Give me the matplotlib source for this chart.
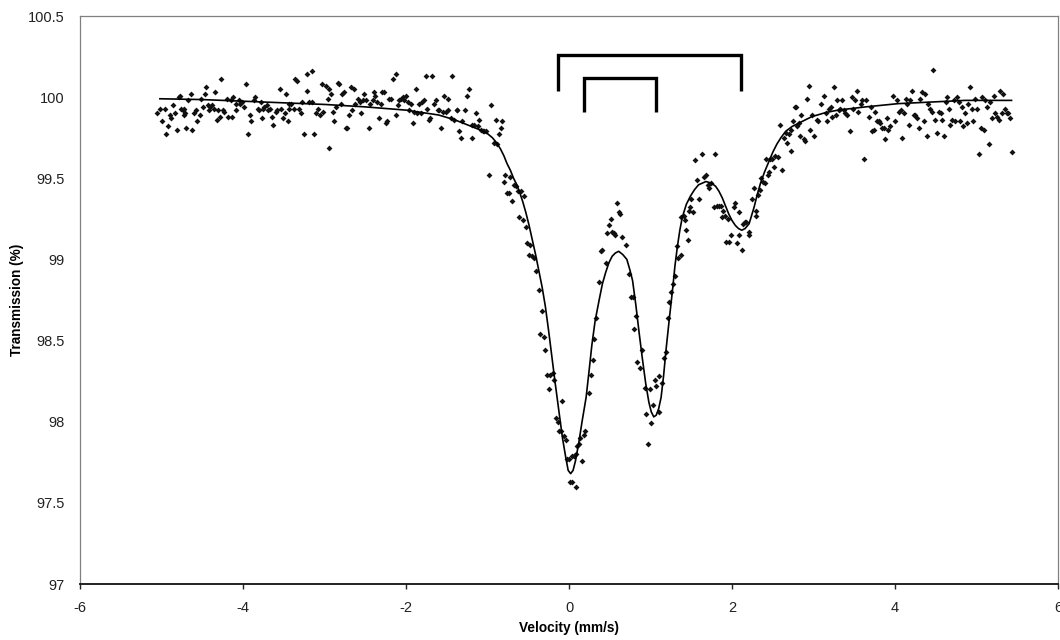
import matplotlib
matplotlib.use("Agg")
import matplotlib.pyplot as plt
from matplotlib.ticker import FuncFormatter

plt.rcParams['font.family'] = ['Liberation Sans', 'DejaVu Sans']
plt.rcParams['axes.unicode_minus'] = False

# measured spectrum (velocity mm/s, transmission %)
vel = [
    -5.05, -5.02, -4.99, -4.96, -4.94, -4.92, -4.89, -4.88, -4.86, -4.84, -4.81, -4.79, -4.77, -4.76, -4.74, -4.73,
    -4.72, -4.71, -4.70, -4.67, -4.64, -4.62, -4.60, -4.58, -4.56, -4.53, -4.51, -4.49, -4.47, -4.45, -4.43, -4.42,
    -4.40, -4.38, -4.36, -4.34, -4.32, -4.31, -4.28, -4.27, -4.25, -4.23, -4.20, -4.18, -4.15, -4.13, -4.12, -4.09,
    -4.08, -4.05, -4.04, -4.01, -3.99, -3.96, -3.94, -3.92, -3.90, -3.87, -3.85, -3.82, -3.80, -3.78, -3.77, -3.76,
    -3.74, -3.71, -3.69, -3.67, -3.64, -3.63, -3.60, -3.58, -3.55, -3.53, -3.51, -3.49, -3.47, -3.45, -3.44, -3.43,
    -3.41, -3.38, -3.36, -3.34, -3.31, -3.29, -3.27, -3.25, -3.22, -3.21, -3.19,
    -3.15, -3.15, -3.13, -3.11, -3.08, -3.06, -3.03, -3.02, -2.98, -2.96, -2.95, -2.94, -2.92, -2.90, -2.88, -2.86,
    -2.84, -2.82, -2.80, -2.78, -2.76, -2.74, -2.72, -2.70, -2.68, -2.66, -2.64, -2.62, -2.59, -2.57,
    -2.55, -2.53, -2.51, -2.49, -2.46, -2.44, -2.41, -2.39, -2.38, -2.35, -2.33, -2.31,
    -2.29, -2.27, -2.25, -2.23, -2.21, -2.19, -2.16, -2.12, -2.12, -2.10, -2.08,
    -2.06, -2.04, -2.02, -2.00, -1.98, -1.96, -1.94, -1.92, -1.90, -1.88, -1.86, -1.84,
    -1.82, -1.80, -1.78, -1.76, -1.74, -1.72, -1.70, -1.68, -1.66, -1.63, -1.61,
    -1.59, -1.57, -1.55, -1.53, -1.51, -1.49, -1.48, -1.45, -1.43, -1.41, -1.38, -1.37, -1.35, -1.33, -1.31, -1.27,
    -1.25, -1.23, -1.19, -1.19, -1.16, -1.14, -1.12, -1.10, -1.08, -1.06, -1.04, -1.02, -0.98, -0.96, -0.92, -0.90,
    -0.88, -0.86, -0.84, -0.82,
    -0.80, -0.78, -0.76, -0.74, -0.72, -0.70, -0.67, -0.65, -0.63, -0.61, -0.59, -0.57, -0.55, -0.53, -0.51, -0.49,
    -0.48, -0.45, -0.43, -0.41, -0.37, -0.35, -0.33, -0.31, -0.29, -0.27, -0.25, -0.23, -0.20, -0.18, -0.16, -0.14,
    -0.12, -0.10, -0.08, -0.06, -0.04, -0.02, 0.00, 0.01, 0.04, 0.04, 0.06, 0.08, 0.09, 0.10, 0.12, 0.14,
    0.16, 0.18, 0.20, 0.25, 0.27, 0.29, 0.31, 0.33, 0.37, 0.39, 0.41, 0.45, 0.47, 0.49, 0.51, 0.53,
    0.55, 0.57, 0.59, 0.61, 0.63, 0.65, 0.70, 0.74, 0.76, 0.78, 0.80, 0.82, 0.84,
    0.87, 0.90, 0.93, 0.95, 0.97, 0.99, 1.01, 1.03, 1.06, 1.07, 1.10, 1.11, 1.14, 1.16, 1.19, 1.21,
    1.23, 1.25, 1.27, 1.30, 1.32, 1.34, 1.37, 1.38, 1.41, 1.42, 1.44, 1.46, 1.47, 1.49, 1.50, 1.52,
    1.54, 1.57, 1.59, 1.63, 1.66, 1.68, 1.70, 1.72, 1.74, 1.78, 1.79, 1.82, 1.84, 1.86, 1.88, 1.89,
    1.91, 1.93, 1.95, 1.96, 1.99, 2.02, 2.04, 2.06, 2.08, 2.09, 2.12, 2.13, 2.16, 2.17, 2.21, 2.21,
    2.24, 2.27, 2.29, 2.30, 2.32, 2.34, 2.36, 2.38, 2.40, 2.42, 2.44, 2.45, 2.47, 2.49, 2.51, 2.53,
    2.57, 2.59, 2.61, 2.64, 2.66, 2.68, 2.70, 2.72, 2.73, 2.75, 2.77, 2.79, 2.80,
    2.82, 2.84, 2.85, 2.88, 2.90, 2.92, 2.94, 2.96, 2.98, 3.00, 3.04, 3.06, 3.09, 3.13, 3.15, 3.17,
    3.19, 3.21, 3.23, 3.25, 3.27, 3.29, 3.31, 3.33, 3.35, 3.37, 3.39, 3.41, 3.45, 3.47, 3.49, 3.51,
    3.53, 3.55, 3.58, 3.60, 3.62, 3.64, 3.68, 3.70, 3.72, 3.74, 3.76, 3.78, 3.80, 3.82, 3.84, 3.86,
    3.88, 3.90, 3.92, 3.94, 3.98, 4.00, 4.02, 4.05, 4.07, 4.09, 4.11, 4.13, 4.15, 4.17, 4.19, 4.21,
    4.23, 4.25, 4.27, 4.29, 4.31, 4.33, 4.35, 4.37, 4.39, 4.41, 4.43, 4.45, 4.47, 4.49, 4.51, 4.54,
    4.56, 4.58, 4.60, 4.62, 4.64, 4.66, 4.68, 4.70, 4.72, 4.74, 4.76, 4.78, 4.80, 4.82, 4.84, 4.86,
    4.88, 4.90, 4.92, 4.94, 4.96, 4.98, 5.01, 5.03, 5.05, 5.07, 5.09, 5.11, 5.13, 5.15, 5.17, 5.19,
    5.21, 5.23, 5.25, 5.27, 5.29, 5.31, 5.33, 5.35, 5.37, 5.39, 5.41, 5.43,
]
trans = [
    99.90, 99.93, 99.85, 99.93, 99.77, 99.82, 99.89, 99.87, 99.95, 99.90, 99.80, 100.00, 100.01, 99.93, 99.92, 99.89,
    99.925, 99.90, 99.81, 99.98, 100.02, 99.80, 99.90, 99.92, 99.85, 99.89, 99.99, 99.94, 100.02, 100.06, 99.95, 99.92,
    99.94, 99.95, 99.925, 100.03, 99.86, 99.92, 99.88, 100.11, 99.92, 99.91, 99.99, 99.88, 99.98, 99.88, 100.00, 99.96,
    99.92, 99.98, 99.96, 99.97, 99.94, 100.08, 99.77, 99.89, 99.85, 99.98, 100.00, 99.93, 99.92, 99.97, 99.87, 99.925,
    99.94, 99.95, 99.92, 99.93, 99.88, 99.83, 99.91, 99.92, 100.05, 99.925, 99.87, 99.90, 100.02, 99.85, 99.96, 99.925,
    99.96, 99.925, 100.11, 100.10, 99.925, 99.90, 99.97, 99.77, 100.04, 100.14, 99.97,
    100.16, 99.97, 99.77, 99.90, 99.93, 99.89, 100.08, 99.91, 100.07, 99.99, 99.685, 100.05, 100.02, 99.91, 99.85, 99.94,
    100.09, 100.08, 99.96, 100.02, 100.03, 99.81, 99.81, 99.89, 100.06, 99.92, 100.05, 99.96, 99.99, 99.97,
    99.90, 99.98, 100.02, 99.98, 99.81, 99.96, 99.98, 100.03, 100.01, 99.97, 99.87, 99.96,
    100.03, 100.03, 99.84, 99.85, 99.99, 99.99, 100.11, 100.14, 99.89, 99.95, 99.98,
    99.99, 100.00, 99.98, 100.01, 99.97, 99.92, 99.96, 99.84, 99.91, 100.05, 99.90, 99.96,
    99.90, 99.97, 99.98, 100.13, 99.93, 99.86, 99.87, 100.13, 99.96, 99.98, 99.92,
    99.92, 99.81, 99.91, 100.01, 99.91, 99.99, 99.92, 99.87, 100.13, 99.86, 99.92, 99.92, 99.79, 99.75, 99.85, 99.92,
    100.01, 100.05, 99.83, 99.75, 99.83, 99.90, 99.82, 99.86, 99.80, 99.79, 99.79, 99.79, 99.52, 99.95, 99.72, 99.86,
    99.71, 99.77, 99.81, 99.85,
    99.48, 99.52, 99.41, 99.41, 99.51, 99.36, 99.46, 99.45, 99.42, 99.26, 99.42, 99.24, 99.39, 99.20, 99.10, 99.03,
    99.09, 99.02, 99.01, 98.93, 98.81, 98.54, 98.68, 98.52, 98.44, 98.29, 98.20, 98.29, 98.30, 98.26, 98.02, 98.00,
    97.94, 97.94, 98.13, 97.91, 97.89, 97.77, 97.77, 97.63, 97.79, 97.63, 97.79, 97.80, 97.60, 97.85, 97.86, 97.90,
    97.76, 97.92, 97.94, 98.18, 98.29, 98.38, 98.51, 98.64, 98.86, 99.05, 99.06, 98.98, 99.16, 99.21, 99.25, 99.17,
    99.16, 99.15, 99.35, 99.29, 99.28, 99.14, 99.09, 98.91, 98.77, 98.77, 98.57, 98.65, 98.37,
    98.33, 98.44, 98.21, 98.05, 97.86, 98.20, 97.99, 98.10, 98.26, 98.22, 98.28, 98.06, 98.24, 98.39, 98.43, 98.64,
    98.74, 98.80, 98.85, 98.90, 99.08, 99.01, 99.03, 99.26, 99.27, 99.24, 99.18, 99.12, 99.30, 99.32, 99.37, 99.29,
    99.61, 99.49, 99.37, 99.65, 99.51, 99.52, 99.46, 99.44, 99.47, 99.32, 99.65, 99.33, 99.33, 99.33, 99.26, 99.30,
    99.27, 99.11, 99.25, 99.11, 99.15, 99.32, 99.35, 99.10, 99.29, 99.15, 99.06, 99.22, 99.23, 99.23, 99.17, 99.15,
    99.37, 99.44, 99.27, 99.30, 99.40, 99.43, 99.50, 99.48, 99.47, 99.62, 99.52, 99.54, 99.62, 99.62, 99.57, 99.64,
    99.63, 99.83, 99.55, 99.75, 99.78, 99.72, 99.77, 99.80, 99.67, 99.85, 99.94, 99.94, 99.82,
    99.84, 99.76, 99.89, 99.74, 99.73, 99.99, 100.07, 99.80, 99.89, 99.76, 99.86, 99.85, 99.96, 100.01, 99.90, 99.85,
    99.93, 99.94, 99.88, 100.06, 99.89, 99.98, 99.92, 99.93, 99.98, 99.92, 99.90, 99.89, 99.79, 100.00, 99.93, 99.98,
    100.04, 99.91, 99.96, 99.98, 99.62, 99.98, 99.88, 99.94, 99.79, 99.80, 99.91, 99.85, 99.85, 99.84, 99.81, 99.81,
    99.74, 99.87, 99.80, 99.82, 100.01, 99.85, 99.98, 99.91, 99.92, 99.75, 99.90, 99.99, 99.96, 99.83, 99.98, 100.04,
    99.89, 99.89, 99.87, 99.81, 99.99, 100.03, 99.85, 100.02, 99.76, 99.96, 99.93, 99.91, 100.17, 99.86, 99.78, 99.91,
    99.90, 99.86, 99.76, 99.97, 100.00, 99.93, 99.83, 99.86, 99.98, 99.85, 100.00, 99.97, 99.85, 99.94, 99.82, 99.90,
    99.84, 99.96, 100.06, 99.93, 99.85, 99.99, 99.93, 99.65, 99.81, 100.00, 99.80, 99.98, 99.94, 99.71, 99.97, 99.87,
    100.01, 99.90, 99.88, 99.86, 100.04, 99.90, 100.02, 99.93, 99.90, 99.90, 99.87, 99.66,
]

# fitted curve
fit_vel = [-5.02, -4.5, -4.0, -3.5, -3.0, -2.5, -2.0, -1.6, -1.4, -1.2, -1.1, -1.0, -0.94, -0.89, -0.84,
           -0.80, -0.76, -0.72, -0.68, -0.64, -0.61, -0.57, -0.53, -0.49, -0.45, -0.41, -0.37, -0.33, -0.29, -0.25,
           -0.21, -0.17, -0.12, -0.08, -0.04, -0.01, 0.02, 0.05, 0.08, 0.12, 0.16, 0.21, 0.25, 0.28, 0.32,
           0.37, 0.41, 0.45, 0.49, 0.53, 0.57, 0.61, 0.66, 0.71, 0.75, 0.78, 0.82, 0.86, 0.90, 0.94,
           0.98, 1.01, 1.04, 1.07, 1.10, 1.13, 1.16, 1.19, 1.23, 1.27, 1.30, 1.33, 1.36, 1.39, 1.44,
           1.49, 1.54, 1.59, 1.68, 1.75, 1.80, 1.84, 1.88, 1.92, 1.96, 2.00, 2.04, 2.08, 2.12, 2.16,
           2.21, 2.24, 2.27, 2.31, 2.35, 2.40, 2.45, 2.50, 2.55, 2.60, 2.66, 2.74, 2.82, 2.90, 2.98,
           3.15, 3.3, 3.64, 4.04, 4.45, 4.86, 5.43]
fit_trans = [99.99, 99.985, 99.975, 99.965, 99.955, 99.94, 99.92, 99.89, 99.86, 99.82, 99.80, 99.775, 99.75, 99.72, 99.68,
             99.64, 99.59, 99.55, 99.50, 99.46, 99.42, 99.36, 99.29, 99.21, 99.12, 99.03, 98.93, 98.83, 98.71, 98.56,
             98.40, 98.24, 98.05, 97.90, 97.78, 97.70, 97.68, 97.70, 97.76, 97.87, 98.00, 98.15, 98.33, 98.47, 98.62,
             98.75, 98.85, 98.92, 98.98, 99.02, 99.04, 99.05, 99.03, 99.00, 98.93, 98.87, 98.72, 98.55, 98.39, 98.24,
             98.12, 98.06, 98.03, 98.04, 98.08, 98.15, 98.28, 98.44, 98.63, 98.81, 98.96, 99.08, 99.18, 99.26, 99.34,
             99.39, 99.43, 99.46, 99.48, 99.47, 99.45, 99.42, 99.38, 99.33, 99.28, 99.24, 99.21, 99.19, 99.18, 99.19,
             99.22, 99.27, 99.32, 99.40, 99.47, 99.54, 99.60, 99.66, 99.71, 99.75, 99.79, 99.82, 99.84, 99.86, 99.88,
             99.905, 99.92, 99.94, 99.96, 99.97, 99.98, 99.98]

# doublet line positions (mm/s) for the stick markers
doublet_outer = [-0.135, 2.11]
doublet_inner = [0.18, 1.07]

fig = plt.figure(figsize=(10.6, 6.4), dpi=100)
ax = fig.add_axes([80/1060, 56/640, 978/1060, 568/640])

ax.plot(vel, trans, 'D', color='#111111', markersize=3.0, markeredgewidth=0)
ax.plot(fit_vel, fit_trans, color='black', linewidth=1.2)

# bracket markers above the peaks
def bracket(pos, top, bottom):
    ax.plot([pos[0], pos[0], pos[1], pos[1]], [bottom, top, top, bottom],
            color='black', linewidth=2.4, solid_joinstyle='miter', solid_capstyle='butt')

bracket(doublet_outer, 100.26, 100.04)
bracket(doublet_inner, 100.12, 99.91)

ax.set_xlim(-6, 6)
ax.set_ylim(97, 100.5)
ax.set_xticks([-6, -4, -2, 0, 2, 4, 6])
ax.set_yticks([97, 97.5, 98, 98.5, 99, 99.5, 100, 100.5])
ax.yaxis.set_major_formatter(FuncFormatter(lambda v, p: '%g' % v))

for s in ['left', 'top', 'right']:
    ax.spines[s].set_color('#808080')
    ax.spines[s].set_linewidth(0.9)
ax.spines['bottom'].set_color('#111111')
ax.spines['bottom'].set_linewidth(1.3)

ax.tick_params(axis='x', direction='out', length=3.5, width=1, pad=9, labelsize=10.5, colors='#222222')
ax.tick_params(axis='y', length=0, pad=11, labelsize=10.5, colors='#222222')

ax.set_xlabel('Velocity (mm/s)', fontsize=9.8, fontweight='bold', labelpad=4)
ax.set_ylabel('Transmission (%)', fontsize=9.8, fontweight='bold', labelpad=3)

fig.savefig('out.png', dpi=100)
